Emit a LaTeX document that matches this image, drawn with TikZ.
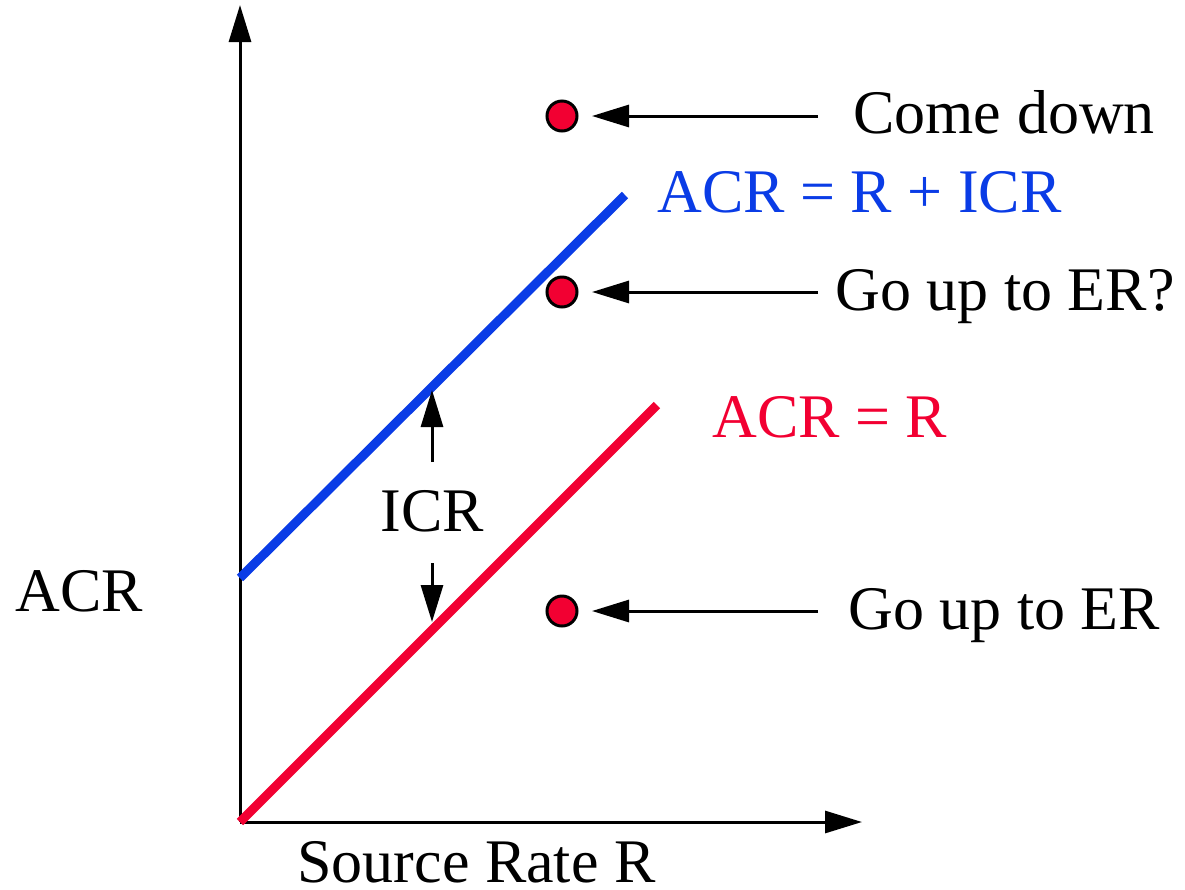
\documentclass[tikz,border=0pt]{standalone}
\usepackage{fontspec}
\setmainfont{Liberation Serif}
\usetikzlibrary{arrows.meta}
\definecolor{lred}{RGB}{242,0,50}
\definecolor{lblue}{RGB}{10,60,230}
\begin{document}
\begin{tikzpicture}[x=0.5pt,y=-0.5pt,
  lbl/.style={inner sep=0pt,anchor=base west,font=\fontsize{31}{36}\selectfont},
  tip/.style={-{Triangle[length=18.5pt,width=11pt]}},
  axis/.style={line width=1.5pt,tip},
  pointer/.style={line width=1.5pt,tip},
  dot/.style={circle,draw=black,line width=1.5pt,fill=lred,minimum size=15pt,inner sep=0pt},
  rate/.style={line width=4.5pt}]
\useasboundingbox (0,0) rectangle (1185,890);
% axes
\coordinate (O) at (240,822);
\coordinate (ytop) at (240,5);
\coordinate (xend) at (862,822);
\draw[axis] (O) -- (ytop);
\draw[axis] (O) -- (xend);
% lines
\coordinate (r0) at (240,822);
\coordinate (r1) at (657,405);
\coordinate (b0) at (240,578);
\coordinate (b1) at (625,195);
\draw[rate,lred] (r0) -- (r1);
\draw[rate,lblue] (b0) -- (b1);
% dots
\node[dot] (d1) at (562,116) {};
\node[dot] (d2) at (562,292) {};
\node[dot] (d3) at (562,611) {};
\coordinate (a1) at (818,116);
\coordinate (a2) at (818,292);
\coordinate (a3) at (818,611);
\draw[pointer] (a1) -- (592,116);
\draw[pointer] (a2) -- (592,292);
\draw[pointer] (a3) -- (592,611);
% labels
\node[lbl] (t1) at (853,133) {Come down};
\node[lbl] (t2) at (835,310) {Go up to ER?};
\node[lbl] (t3) at (848,629) {Go up to ER};
\node[lbl,text=lblue] (bl) at (657,212) {ACR = R + ICR};
\node[lbl,text=lred] (rl) at (712,437) {ACR = R};
\node[lbl] (icr) at (380,531) {ICR};
\node[lbl] (ylab) at (15,611) {ACR};
\node[lbl] (xlab) at (297,882) {Source Rate R};
% ICR arrows
\coordinate (u0) at (432,462);
\coordinate (u1) at (432,390);
\coordinate (v0) at (432,563);
\coordinate (v1) at (432,622);
\draw[pointer] (u0) -- (u1);
\draw[pointer] (v0) -- (v1);
\end{tikzpicture}
\end{document}
